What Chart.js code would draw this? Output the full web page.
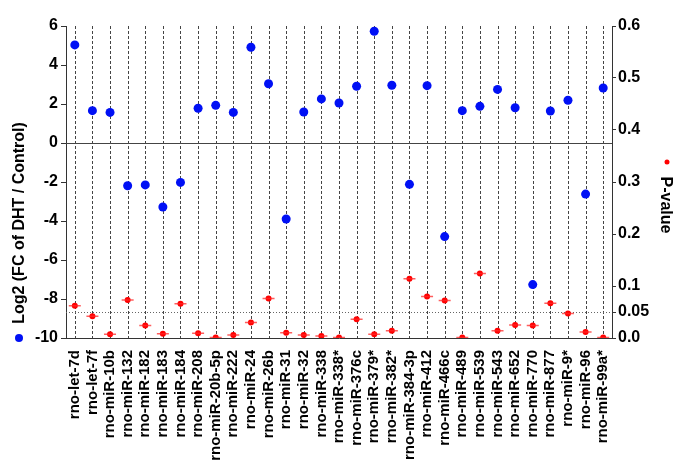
<!DOCTYPE html>
<html>
<head>
<meta charset="utf-8">
<script src="https://cdn.jsdelivr.net/npm/chart.js@4.4.0/dist/chart.umd.min.js"></script>
<style>
  html, body { margin: 0; padding: 0; background: #fff; }
</style>
</head>
<body>
<canvas id="chart" width="685" height="474"></canvas>
<script>
// miRNA names along the bottom
const mirnas = [
    'rno-let-7d', 'rno-let-7f', 'rno-miR-10b', 'rno-miR-132', 'rno-miR-182',
    'rno-miR-183', 'rno-miR-184', 'rno-miR-208', 'rno-miR-20b-5p', 'rno-miR-222',
    'rno-miR-24', 'rno-miR-26b', 'rno-miR-31', 'rno-miR-32', 'rno-miR-338',
    'rno-miR-338*', 'rno-miR-376c', 'rno-miR-379*', 'rno-miR-382*', 'rno-miR-384-3p',
    'rno-miR-412', 'rno-miR-466c', 'rno-miR-489', 'rno-miR-539', 'rno-miR-543',
    'rno-miR-652', 'rno-miR-770', 'rno-miR-877', 'rno-miR-9*', 'rno-miR-96',
    'rno-miR-99a*'
];

// log2 fold change (left axis)
const log2fc = [
    5.03, 1.66, 1.57, -2.19, -2.15,
    -3.28, -2.02, 1.78, 1.93, 1.57,
    4.91, 3.04, -3.90, 1.59, 2.26,
    2.05, 2.91, 5.73, 2.96, -2.12,
    2.94, -4.80, 1.66, 1.88, 2.75,
    1.81, -7.26, 1.64, 2.19, -2.62,
    2.82
];

// p-values (right axis)
const pValues = [
    0.062, 0.042, 0.007, 0.073, 0.024,
    0.008, 0.066, 0.009, 0.001, 0.006,
    0.030, 0.076, 0.010, 0.006, 0.004,
    0.001, 0.036, 0.007, 0.014, 0.114,
    0.080, 0.072, 0.001, 0.124, 0.014,
    0.025, 0.024, 0.067, 0.047, 0.0115,
    0.001
];

const leftTicks = [-10, -8, -6, -4, -2, 0, 2, 4, 6];
const rightTicks = [0, 0.05, 0.1, 0.2, 0.3, 0.4, 0.5, 0.6];

const blue = '#0010f5';
const red = '#ff0000';
const axisColor = '#333';

Chart.defaults.font.family = '"Liberation Sans", Arial, sans-serif';
Chart.defaults.font.weight = 'bold';
Chart.defaults.color = '#000';

// guide lines: dashed verticals, zero line, p = 0.05 line; titles and legend dots
const guides = {
    id: 'guides',
    beforeDatasetsDraw(chart) {
        const ctx = chart.ctx;
        const area = chart.chartArea;
        const x = chart.scales.x, y = chart.scales.y, y1 = chart.scales.y1;
        ctx.save();
        ctx.lineWidth = 1;
        ctx.strokeStyle = '#444';
        ctx.setLineDash([3, 2]);
        mirnas.forEach((m, i) => {
            let px = Math.round(x.getPixelForValue(i)) + 0.5;
            ctx.beginPath();
            ctx.moveTo(px, area.top);
            ctx.lineTo(px, area.bottom);
            ctx.stroke();
        });
        ctx.strokeStyle = '#666';
        ctx.setLineDash([1, 2]);
        let p05 = Math.round(y1.getPixelForValue(0.05)) + 0.5;
        ctx.beginPath();
        ctx.moveTo(area.left, p05);
        ctx.lineTo(area.right, p05);
        ctx.stroke();
        ctx.setLineDash([]);
        ctx.strokeStyle = '#444';
        let zero = Math.round(y.getPixelForValue(0)) + 0.5;
        ctx.beginPath();
        ctx.moveTo(area.left, zero);
        ctx.lineTo(area.right, zero);
        ctx.stroke();
        ctx.restore();
    },
    afterDraw(chart) {
        const ctx = chart.ctx;
        ctx.save();
        ctx.fillStyle = '#000';
        ctx.font = 'bold 16px "Liberation Sans", Arial, sans-serif';
        ctx.textAlign = 'center';
        ctx.textBaseline = 'middle';
        ctx.translate(20, 223);
        ctx.rotate(-Math.PI / 2);
        ctx.fillText('Log2 (FC of DHT / Control)', 0, 0);
        ctx.restore();

        ctx.save();
        ctx.fillStyle = '#000';
        ctx.font = 'bold 16px "Liberation Sans", Arial, sans-serif';
        ctx.textAlign = 'center';
        ctx.textBaseline = 'middle';
        ctx.translate(665, 205);
        ctx.rotate(Math.PI / 2);
        ctx.fillText('P-value', 0, 0);
        ctx.restore();

        ctx.save();
        ctx.fillStyle = blue;
        ctx.beginPath();
        ctx.arc(19, 338, 4, 0, Math.PI * 2);
        ctx.fill();
        ctx.fillStyle = red;
        ctx.beginPath();
        ctx.arc(667, 162, 2.5, 0, Math.PI * 2);
        ctx.fill();
        ctx.restore();
    }
};

new Chart(document.getElementById('chart').getContext('2d'), {
    type: 'line',
    data: {
        labels: mirnas,
        datasets: [
            {
                label: 'Log2 (FC of DHT / Control)',
                data: log2fc,
                yAxisID: 'y',
                showLine: false,
                pointRadius: 4.5,
                pointBackgroundColor: blue,
                pointBorderWidth: 0
            },
            {
                label: 'P-value bar',
                data: pValues,
                yAxisID: 'y1',
                showLine: false,
                pointStyle: 'line',
                pointRadius: 6,
                pointBorderColor: 'rgba(255, 40, 40, 0.75)',
                pointBorderWidth: 1.5
            },
            {
                label: 'P-value',
                data: pValues,
                yAxisID: 'y1',
                showLine: false,
                pointRadius: 3,
                pointBackgroundColor: red,
                pointBorderWidth: 0
            }
        ]
    },
    options: {
        responsive: false,
        animation: false,
        layout: { padding: { top: 26, left: 0, right: 0, bottom: 0 } },
        plugins: {
            legend: { display: false },
            tooltip: { enabled: false }
        },
        scales: {
            x: {
                type: 'category',
                offset: true,
                grid: { display: false },
                border: { display: true, color: axisColor, width: 1 },
                ticks: {
                    autoSkip: false,
                    minRotation: 90,
                    maxRotation: 90,
                    padding: 4,
                    font: { size: 15, weight: 'bold' },
                    color: '#000'
                },
                afterFit: s => { s.height = 136; }
            },
            y: {
                position: 'left',
                min: -10,
                max: 6,
                afterBuildTicks: s => { s.ticks = leftTicks.map(v => ({ value: v })); },
                grid: { drawOnChartArea: false, drawTicks: true, tickLength: 5, tickColor: axisColor },
                border: { color: axisColor, width: 1 },
                ticks: { padding: 3, font: { size: 16, weight: 'bold' }, color: '#000' },
                afterFit: s => { s.width = 66; }
            },
            y1: {
                position: 'right',
                min: 0,
                max: 0.6,
                afterBuildTicks: s => { s.ticks = rightTicks.map(v => ({ value: v })); },
                grid: { drawOnChartArea: false, drawTicks: true, tickLength: 4, tickColor: axisColor },
                border: { color: axisColor, width: 1 },
                ticks: {
                    padding: 2,
                    font: { size: 16, weight: 'bold' },
                    color: '#000',
                    callback: v => v === 0.05 ? '0.05' : v.toFixed(1)
                },
                afterFit: s => { s.width = 73; }
            }
        }
    },
    plugins: [guides]
});
</script>
</body>
</html>
